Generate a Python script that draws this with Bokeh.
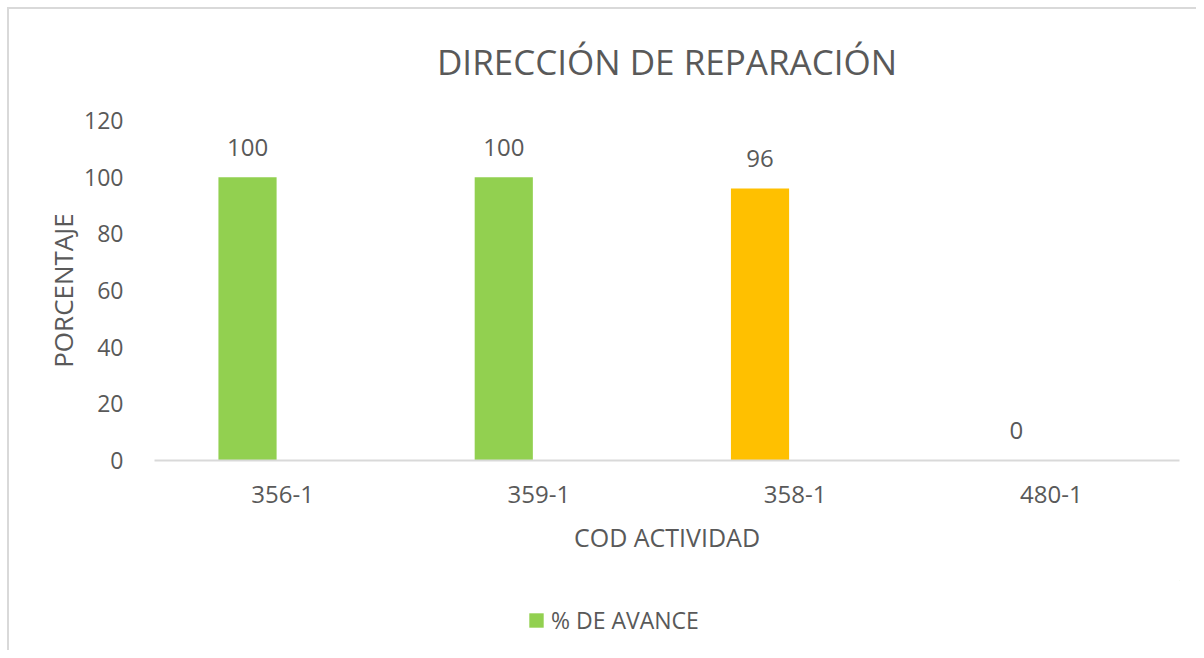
from bokeh.plotting import figure
from bokeh.models import ColumnDataSource, Range1d, FixedTicker, Legend, LegendItem
from bokeh.layouts import column
from bokeh.transform import dodge
from bokeh.core.properties import value
from bokeh.embed import file_html
from bokeh.resources import INLINE

categories = ["356-1", "359-1", "358-1", "480-1"]
avance = [100, 100, 96, 0]
bar_colors = ["#92D050", "#92D050", "#FFC000", "#92D050"]
labels = ["100", "100", "96", "0"]
y_ticks = [0, 20, 40, 60, 80, 100, 120]
series_name = "% DE AVANCE"
series_color = "#92D050"

FONT = "Open Sans"
TXT = "#595959"

src = ColumnDataSource(dict(cat=categories, val=avance, col=bar_colors, lab=labels))

p = figure(x_range=categories, y_range=Range1d(0, 120), width=1196, height=580,
           output_backend="svg", toolbar_location=None,
           min_border_left=154, min_border_right=17, min_border_top=120, min_border_bottom=120)
p.outline_line_color = None
p.border_fill_color = None
p.background_fill_color = None

p.title.text = "DIRECCIÓN DE REPARACIÓN"
p.title.align = "center"
p.title.text_font = FONT
p.title.text_font_style = "normal"
p.title.text_font_size = "35px"
p.title.text_color = TXT
p.title.standoff = 71

p.vbar(x=dodge("cat", -0.137, range=p.x_range), top="val", width=0.227, source=src,
       fill_color="col", line_color=None)
p.text(x=dodge("cat", -0.137, range=p.x_range), y="val", text="lab", source=src,
       text_align="center", text_baseline="alphabetic", y_offset=-30,
       text_font=value(FONT), text_font_size="24px", text_color=TXT)

p.xgrid.visible = False
p.ygrid.visible = False

p.yaxis.ticker = FixedTicker(ticks=y_ticks)
p.yaxis.axis_line_color = None
p.yaxis.major_tick_line_color = None
p.yaxis.minor_tick_line_color = None
p.yaxis.major_label_text_font = FONT
p.yaxis.major_label_text_font_size = "23px"
p.yaxis.major_label_text_color = TXT
p.yaxis.major_label_standoff = 25
p.yaxis.axis_label = "PORCENTAJE"
p.yaxis.axis_label_text_font = FONT
p.yaxis.axis_label_text_font_style = "normal"
p.yaxis.axis_label_text_font_size = "26px"
p.yaxis.axis_label_text_color = TXT
p.yaxis.axis_label_standoff = 0

p.xaxis.axis_line_color = "#D9D9D9"
p.xaxis.axis_line_width = 2
p.xaxis.major_tick_line_color = None
p.xaxis.minor_tick_line_color = None
p.xaxis.major_label_text_font = FONT
p.xaxis.major_label_text_font_size = "24px"
p.xaxis.major_label_text_color = TXT
p.xaxis.major_label_standoff = 19
p.xaxis.axis_label = "COD ACTIVIDAD"
p.xaxis.axis_label_text_font = FONT
p.xaxis.axis_label_text_font_style = "normal"
p.xaxis.axis_label_text_font_size = "25px"
p.xaxis.axis_label_text_color = TXT
p.xaxis.axis_label_standoff = 14

# legend row
lf = figure(width=1196, height=70, x_range=Range1d(0, 1), y_range=Range1d(0, 1),
            output_backend="svg", toolbar_location=None,
            min_border_left=0, min_border_right=0, min_border_top=0, min_border_bottom=0)
lf.axis.visible = False
lf.grid.visible = False
lf.outline_line_color = None
lf.border_fill_color = None
lf.background_fill_color = None
dummy = lf.vbar(x=[5], top=[5], bottom=[4], width=0.1, fill_color=series_color, line_color=None)
legend = Legend(items=[LegendItem(label=series_name, renderers=[dummy])],
                location=(373, 14), orientation="horizontal",
                label_text_font=FONT, label_text_font_size="23px", label_text_color=TXT,
                glyph_width=18, glyph_height=18, label_standoff=6, padding=0, margin=0,
                border_line_color=None, background_fill_alpha=0)
lf.add_layout(legend, "center")

layout = column(p, lf, spacing=0)
layout.styles = {
    "background": "linear-gradient(#D9D9D9, #D9D9D9) 7px 7px / 2px 100% no-repeat, "
                  "linear-gradient(#D9D9D9, #D9D9D9) 7px 7px / 100% 2px no-repeat, white",
}
open("out.html", "w").write(file_html(layout, INLINE))
